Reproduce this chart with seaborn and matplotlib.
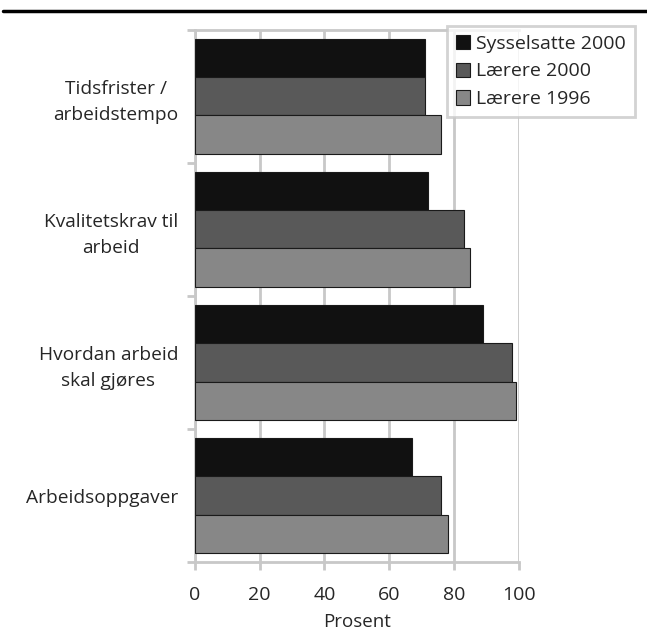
import numpy as np
import pandas as pd
import matplotlib
matplotlib.use('Agg')
import matplotlib.pyplot as plt
from matplotlib.lines import Line2D
import seaborn as sns

# data (percent)
categories = ['Tidsfrister /\narbeidstempo', 'Kvalitetskrav til\narbeid',
              'Hvordan arbeid\nskal gjøres', 'Arbeidsoppgaver']
series = ['Sysselsatte 2000', 'Lærere 2000', 'Lærere 1996']
sysselsatte_2000 = [71, 72, 89, 67]
laerere_2000 = [71, 83, 98, 76]
laerere_1996 = [76, 85, 99, 78]
x_ticks = [0, 20, 40, 60, 80, 100]

colors = ['#111111', '#595959', '#878787']
grid_col = '#c8c8c8'

rows = []
for name, vals in zip(series, [sysselsatte_2000, laerere_2000, laerere_1996]):
    for cat, v in zip(categories, vals):
        rows.append({'Kategori': cat, 'Serie': name, 'Prosent': v})
df = pd.DataFrame(rows)

sns.set_style('white')
plt.rcParams['font.family'] = ['Open Sans', 'DejaVu Sans']

fig = plt.figure(figsize=(6.47, 6.33), dpi=100)
ax = fig.add_axes([0.301, 0.112, 0.501, 0.841])

sns.barplot(data=df, y='Kategori', x='Prosent', hue='Serie', orient='h',
            order=categories, hue_order=series, palette=colors,
            width=0.86, edgecolor='#1a1a1a', linewidth=0.8, saturation=1,
            ax=ax, zorder=3)

ax.set_xlim(0, 100)
ax.set_ylim(3.5, -0.5)
ax.set_xticks(x_ticks)
ax.set_xticklabels([str(t) for t in x_ticks], fontsize=14)
ax.grid(axis='x', color=grid_col, linewidth=2, zorder=0)
ax.set_axisbelow(True)

# category labels at centers, tick marks at the boundaries
ax.set_yticks(range(len(categories)))
ax.set_yticklabels(categories, fontsize=13.8, multialignment='center')
for lbl in ax.get_yticklabels():
    lbl.set_linespacing(1.55)
ax.tick_params(axis='y', which='major', length=0, pad=12)
ax.set_yticks(np.arange(-0.5, len(categories)), minor=True)
ax.tick_params(axis='y', which='minor', length=6, width=2, color=grid_col, left=True)
ax.tick_params(axis='x', length=6, width=2, color=grid_col, bottom=True, pad=11)

for side in ['left', 'bottom', 'top']:
    ax.spines[side].set_color(grid_col)
    ax.spines[side].set_linewidth(2)
ax.spines['right'].set_visible(False)

ax.set_ylabel('')
ax.set_xlabel('Prosent', fontsize=13.5, labelpad=7)

leg = ax.legend(loc='upper left', bbox_to_anchor=(0.778, 1.007), fontsize=14,
                frameon=True, fancybox=False, edgecolor=grid_col,
                handlelength=0.75, handleheight=0.75, handletextpad=0.3,
                borderpad=0.45, labelspacing=0.5, borderaxespad=0)
leg.get_frame().set_linewidth(2)
leg.set_zorder(5)

# thick rule at the top of the figure
fig.add_artist(Line2D([0.005, 1.0], [0.983, 0.983], color='black', linewidth=2.5,
                      transform=fig.transFigure))

fig.savefig('out.png', dpi=100)
